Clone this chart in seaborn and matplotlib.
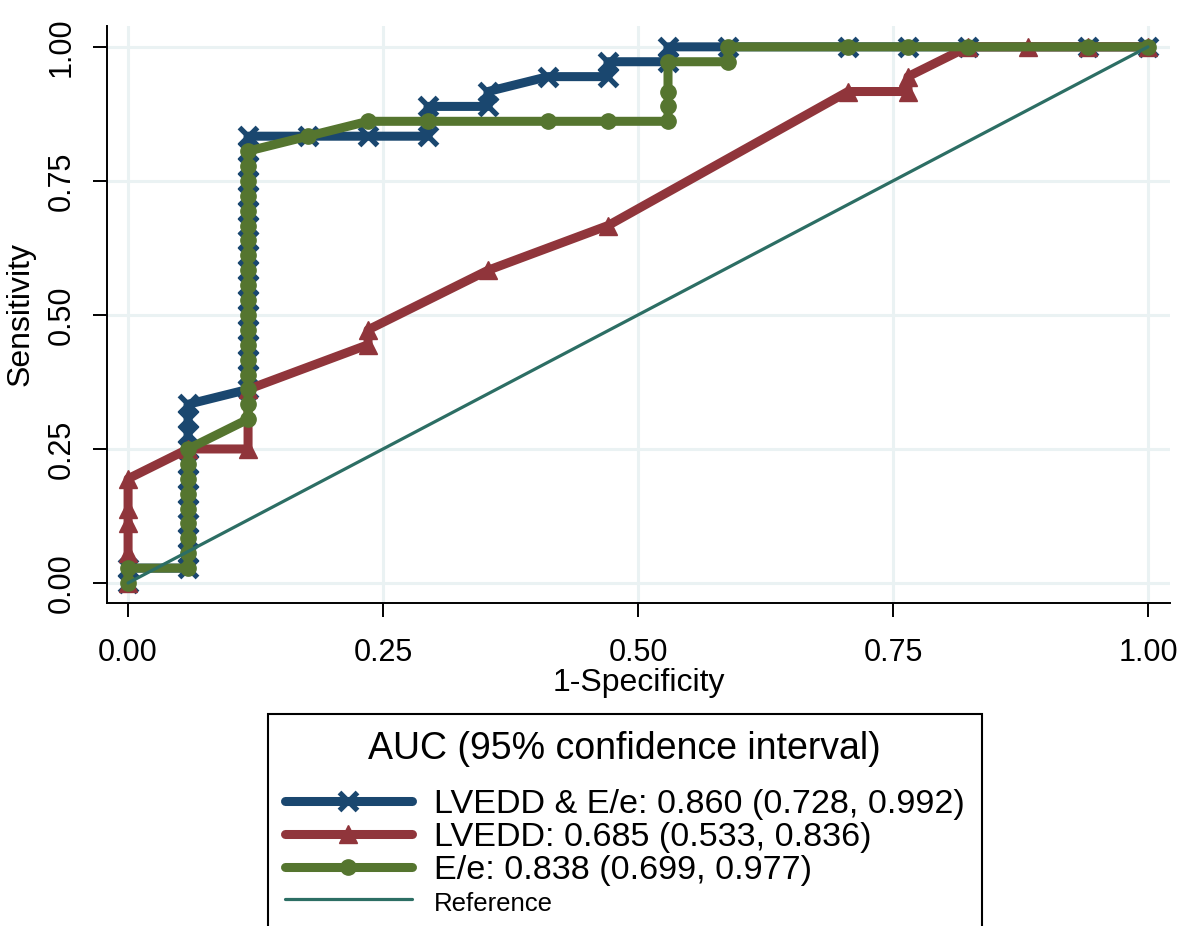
import numpy as np
import pandas as pd
import matplotlib
matplotlib.use("Agg")
import matplotlib.pyplot as plt
import seaborn as sns

# ROC points: false positives out of 17 negatives,
# true positives out of 36 positives
n_neg = 17
n_pos = 36

both_fp = [0, 0, 1, 1, 1, 1, 1, 1, 1, 1, 1, 1, 1, 1,
           2, 2, 2, 2, 2, 2, 2, 2, 2, 2, 2, 2, 2, 2, 2, 2, 2, 2,
           3, 4, 5, 5, 6, 6, 7, 8, 8, 9, 9, 10, 12, 13, 14, 16, 17]
both_tp = [0, 1, 1, 2, 3, 4, 5, 6, 7, 8, 9, 10, 11, 12,
           13, 14, 15, 16, 17, 18, 19, 20, 21, 22, 23, 24, 25, 26, 27, 28, 29, 30,
           30, 30, 30, 32, 32, 33, 34, 34, 35, 35, 36, 36, 36, 36, 36, 36, 36]

lvedd_fp = [0, 0, 0, 0, 0, 1, 2, 2, 4, 4, 6, 8, 12, 13, 13, 14, 15, 16, 17]
lvedd_tp = [0, 2, 4, 5, 7, 9, 9, 13, 16, 17, 21, 24, 33, 33, 34, 36, 36, 36, 36]

ee_fp = [0, 0, 1, 1, 1, 1, 1, 1, 1, 1, 1,
         2, 2, 2, 2, 2, 2, 2, 2, 2, 2, 2, 2, 2, 2, 2, 2, 2, 2, 2,
         3, 4, 5, 7, 8, 9, 9, 9, 9, 10, 10, 12, 13, 14, 16, 17]
ee_tp = [0, 1, 1, 2, 3, 4, 5, 6, 7, 8, 9,
         11, 12, 13, 14, 15, 16, 17, 18, 19, 20, 21, 22, 23, 24, 25, 26, 27, 28, 29,
         30, 31, 31, 31, 31, 31, 32, 33, 35, 35, 36, 36, 36, 36, 36, 36]

ref_x = [0.0, 1.0]
ref_y = [0.0, 1.0]

labels = ["LVEDD & E/e: 0.860 (0.728, 0.992)",
          "LVEDD: 0.685 (0.533, 0.836)",
          "E/e: 0.838 (0.699, 0.977)",
          "Reference"]
legend_title = "AUC (95% confidence interval)"
ticks = [0.0, 0.25, 0.5, 0.75, 1.0]

navy = "#1a476f"
maroon = "#90353b"
green = "#55752f"
teal = "#2c6e64"

sns.set_style("ticks")
plt.rcParams['font.family'] = ['Liberation Sans', 'DejaVu Sans']
plt.rcParams['text.color'] = 'black'
plt.rcParams['axes.labelcolor'] = 'black'
plt.rcParams['legend.labelcolor'] = 'black'

fig = plt.figure(figsize=(11.83, 9.26), dpi=100)
ax = fig.add_axes([0.0905, 0.3488, 0.8985, 0.6232])


def roc_df(fp, tp):
    return pd.DataFrame({'fpr': np.array(fp) / n_neg, 'tpr': np.array(tp) / n_pos})


sns.lineplot(data=roc_df(both_fp, both_tp), x='fpr', y='tpr', ax=ax, sort=False,
             estimator=None, color=navy, linewidth=6.5, marker='x', markersize=13,
             markeredgewidth=3.8, markeredgecolor=navy, label=labels[0])
sns.lineplot(data=roc_df(lvedd_fp, lvedd_tp), x='fpr', y='tpr', ax=ax, sort=False,
             estimator=None, color=maroon, linewidth=6.5, marker='^', markersize=13,
             markeredgewidth=1, markeredgecolor=maroon, label=labels[1])
sns.lineplot(data=roc_df(ee_fp, ee_tp), x='fpr', y='tpr', ax=ax, sort=False,
             estimator=None, color=green, linewidth=6.5, marker='o', markersize=11,
             markeredgewidth=1, markeredgecolor=green, label=labels[2])
sns.lineplot(x=ref_x, y=ref_y, ax=ax, color=teal, linewidth=2.3, label=labels[3])

ax.set_xlim(-0.0206, 1.0216)
ax.set_ylim(-0.0373, 1.039)
ax.set_xticks(ticks)
ax.set_yticks(ticks)
ax.set_xticklabels([f"{t:.2f}" for t in ticks])
ax.set_yticklabels([f"{t:.2f}" for t in ticks], rotation=90, va='center')
ax.tick_params(axis='both', labelsize=22, length=10, width=1.4, colors='black')
ax.tick_params(axis='x', pad=15)
ax.tick_params(axis='y', pad=12)
ax.grid(True, color='#eaf2f3', linewidth=2.2)
ax.set_axisbelow(True)
for s in ['top', 'right']:
    ax.spines[s].set_visible(False)
for s in ['left', 'bottom']:
    ax.spines[s].set_color('black')
    ax.spines[s].set_linewidth(1.4)

ax.set_xlabel('1-Specificity', fontsize=23, labelpad=0)
ax.set_ylabel('Sensitivity', fontsize=23, labelpad=8)

leg = ax.legend(loc='upper left', bbox_to_anchor=(268 / 1183, 1 - 714 / 926),
                bbox_transform=fig.transFigure, title=legend_title,
                fontsize=24.6, title_fontsize=27, frameon=True, fancybox=False,
                edgecolor='black', framealpha=1, handlelength=3.7,
                handletextpad=0.65, labelspacing=0.05, borderpad=0.5,
                borderaxespad=0)
leg.get_frame().set_linewidth(1.5)
leg.get_texts()[3].set_fontsize(18.5)
leg.get_title().set_color('black')
# extra room between the legend title and its entries
leg._legend_box.sep = 16

fig.savefig("out.png", dpi=100)
